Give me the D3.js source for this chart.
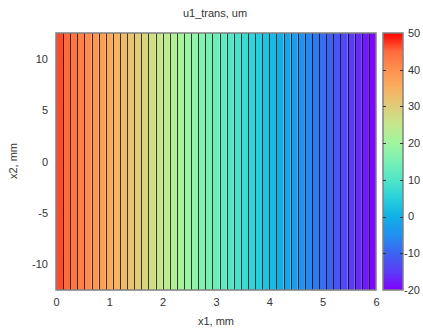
<!DOCTYPE html>
<html>
<head>
<meta charset="utf-8">
<script src="https://cdn.jsdelivr.net/npm/d3@7"></script>
<style>
  body { margin: 0; background: #fff; }
  text { font-family: "Liberation Sans", Arial, sans-serif; fill: #333; }
</style>
</head>
<body>
<div id="chart"></div>
<script>
// strip edges along x1 (mm) and value of each strip (um)
const xEdges = [0, 0.133, 0.267, 0.4, 0.533, 0.667, 0.8, 0.933, 1.067, 1.2, 1.333, 1.467, 1.6, 1.733, 1.867, 2,
  2.133, 2.267, 2.4, 2.533, 2.667, 2.8, 2.933, 3.067, 3.2, 3.333, 3.467, 3.6, 3.733, 3.867, 4,
  4.133, 4.267, 4.4, 4.533, 4.667, 4.8, 4.933, 5.067, 5.2, 5.333, 5.467, 5.6, 5.733, 5.867, 6];
const stripValues = [46.5, 45, 43.5, 42, 40.5, 39, 37.5, 36, 34.5, 33, 31.5, 30, 28.5, 27, 25.5, 24,
  22.5, 21, 19.5, 18, 16.5, 15, 13.5, 12, 10.5, 9, 7.5, 6, 4.5, 3, 1.5,
  0, -1.5, -3, -4.5, -6, -7.5, -9, -10.5, -12, -13.5, -15, -16.5, -18, -19.5];
const xTicks = [0, 1, 2, 3, 4, 5, 6];
const yTicks = [-10, -5, 0, 5, 10];
const cbTicks = [-20, -10, 0, 10, 20, 30, 40, 50];
const paletteStops = [-20, -15, -10, -5, 0, 5, 10, 15, 20, 25, 30, 35, 40, 45, 50];
const paletteColors = ["#8000ff", "#5a3cf8", "#3c64f0", "#2290f0", "#10b0e6", "#28d0dc", "#50e6c8", "#78f0b4",
  "#a0f5a0", "#c4e88c", "#e0cc7a", "#f8b060", "#ff9050", "#ff6a3c", "#ff0000"];

const width = 423, height = 328;
const plot = { left: 56, right: 376, top: 33, bottom: 290 };
const cb = { left: 383, right: 403 };

const svg = d3.select("#chart").append("svg")
  .attr("width", width).attr("height", height);

const x = d3.scaleLinear().domain([0, 6]).range([plot.left, plot.right]);
const y = d3.scaleLinear().domain([-12.5, 12.5]).range([plot.bottom, plot.top]);
const color = d3.scaleLinear().domain(paletteStops).range(paletteColors).clamp(true);
const cbY = d3.scaleLinear().domain([-20, 50]).range([plot.bottom, plot.top]);

// strips
svg.append("g").selectAll("rect")
  .data(stripValues)
  .enter()
  .append("rect")
  .attr("x", (d, i) => x(xEdges[i]))
  .attr("width", (d, i) => x(xEdges[i + 1]) - x(xEdges[i]))
  .attr("y", y(12.5))
  .attr("height", y(-12.5) - y(12.5))
  .attr("fill", d => color(d));

// boundaries between strips
svg.append("g").selectAll("line")
  .data(xEdges.slice(1, -1))
  .enter()
  .append("line")
  .attr("x1", d => Math.round(x(d)) + 0.5)
  .attr("x2", d => Math.round(x(d)) + 0.5)
  .attr("y1", y(12.5))
  .attr("y2", y(-12.5))
  .attr("stroke", "#000")
  .attr("stroke-opacity", 0.75)
  .attr("stroke-width", 1);

svg.append("rect")
  .attr("x", plot.left).attr("y", plot.top)
  .attr("width", plot.right - plot.left).attr("height", plot.bottom - plot.top)
  .attr("fill", "none").attr("stroke", "#808080").attr("stroke-width", 1.5);

// axes
const fmt = d => String(d);
const xAxis = svg.append("g").attr("transform", `translate(0,${plot.bottom})`)
  .call(d3.axisBottom(x).tickValues(xTicks).tickFormat(fmt).tickSize(0).tickPadding(8));
const yAxis = svg.append("g").attr("transform", `translate(${plot.left},0)`)
  .call(d3.axisLeft(y).tickValues(yTicks).tickFormat(fmt).tickSize(0).tickPadding(8));
[xAxis, yAxis].forEach(a => {
  a.select(".domain").remove();
  a.selectAll("text").style("font-size", "11px").style("fill", "#333")
    .style("font-family", "Liberation Sans, Arial, sans-serif");
});

// colour bar
const defs = svg.append("defs");
const grad = defs.append("linearGradient").attr("id", "cbgrad")
  .attr("x1", 0).attr("y1", 1).attr("x2", 0).attr("y2", 0);
grad.selectAll("stop").data(paletteStops).enter().append("stop")
  .attr("offset", d => (d + 20) / 70)
  .attr("stop-color", d => color(d));

svg.append("rect")
  .attr("x", cb.left).attr("y", plot.top)
  .attr("width", cb.right - cb.left).attr("height", plot.bottom - plot.top)
  .attr("fill", "url(#cbgrad)").attr("stroke", "#808080").attr("stroke-width", 1.5);

const cbg = svg.append("g");
cbg.selectAll("line.l").data(cbTicks.slice(1, -1)).enter().append("line")
  .attr("x1", cb.left).attr("x2", cb.left + 3)
  .attr("y1", d => Math.round(cbY(d)) + 0.5).attr("y2", d => Math.round(cbY(d)) + 0.5)
  .attr("stroke", "#333");
cbg.selectAll("line.r").data(cbTicks.slice(1, -1)).enter().append("line")
  .attr("x1", cb.right - 3).attr("x2", cb.right)
  .attr("y1", d => Math.round(cbY(d)) + 0.5).attr("y2", d => Math.round(cbY(d)) + 0.5)
  .attr("stroke", "#333");
cbg.selectAll("text").data(cbTicks).enter().append("text")
  .attr("x", d => d < 0 ? 404 : 408)
  .attr("y", d => cbY(d))
  .attr("dy", "0.35em")
  .style("font-size", "11px")
  .text(fmt);

// titles
svg.append("text").attr("x", 215).attr("y", 17)
  .attr("text-anchor", "middle").style("font-size", "11px").text("u1_trans, um");
svg.append("text").attr("x", 216).attr("y", 325)
  .attr("text-anchor", "middle").style("font-size", "11px").text("x1, mm");
svg.append("text").attr("transform", "translate(17,161) rotate(-90)")
  .attr("text-anchor", "middle").style("font-size", "11px").text("x2, mm");
</script>
</body>
</html>
